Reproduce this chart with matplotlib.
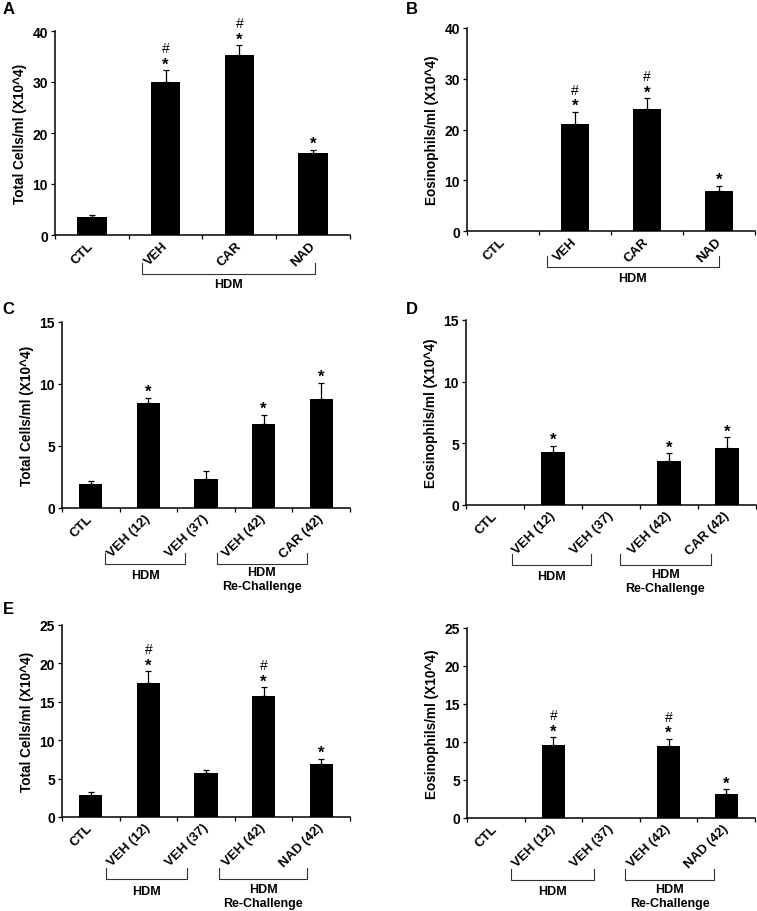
import matplotlib
matplotlib.use("Agg")
import matplotlib.pyplot as plt
import matplotlib.transforms as mtransforms

plt.rcParams['font.family'] = ['Liberation Sans', 'DejaVu Sans']
plt.rcParams['font.weight'] = 'bold'

# data
cats_ab = ["CTL", "VEH", "CAR", "NAD"]
cats_cd = ["CTL", "VEH (12)", "VEH (37)", "VEH (42)", "CAR (42)"]
cats_ef = ["CTL", "VEH (12)", "VEH (37)", "VEH (42)", "NAD (42)"]

a_total = [3.5, 30.0, 35.2, 16.0]
a_err = [0.4, 2.3, 2.0, 0.7]
b_eos = [0.0, 21.1, 24.0, 7.9]
b_err = [0.0, 2.4, 2.2, 1.0]
c_total = [1.9, 8.5, 2.3, 6.8, 8.8]
c_err = [0.3, 0.4, 0.7, 0.7, 1.3]
d_eos = [0.0, 4.3, 0.0, 3.6, 4.6]
d_err = [0.0, 0.5, 0.0, 0.6, 0.9]
e_total = [2.9, 17.5, 5.7, 15.7, 6.9]
e_err = [0.4, 1.5, 0.4, 1.2, 0.7]
f_eos = [0.0, 9.6, 0.0, 9.5, 3.1]
f_err = [0.0, 1.0, 0.0, 0.9, 0.7]

marks_ab = ["", "*#", "*#", "*"]
marks_cd = ["", "*", "", "*", "*"]
marks_ef = ["", "*#", "", "*#", "*"]

W, H = 757, 912
fig = plt.figure(figsize=(W / 100, H / 100), dpi=100)


def make_ax(left, right, top, bottom):
    return fig.add_axes([left / W, 1 - bottom / H, (right - left) / W, (bottom - top) / H])


def draw(ax, cats, vals, errs, marks, ymax, ystep, ylabel):
    n = len(cats)
    xs = [i + 0.5 for i in range(n)]
    ax.bar(xs, vals, width=0.4, color='black')
    for x, v, e in zip(xs, vals, errs):
        if e > 0:
            ax.errorbar(x, v, yerr=[[0], [e]], fmt='none', ecolor='black',
                        elinewidth=0.9, capsize=2, capthick=0.9)
    for x, v, e, m in zip(xs, vals, errs, marks):
        if "*" in m:
            ax.annotate("*", (x, v + e), xytext=(0, 4.5), textcoords='offset points',
                        ha='center', va='center', fontsize=12, fontweight='bold')
        if "#" in m:
            ax.annotate("#", (x, v + e), xytext=(0, 16), textcoords='offset points',
                        ha='center', va='center', fontsize=10, fontweight='normal')
    ax.set_xlim(0, n)
    ax.set_ylim(0, ymax)
    ax.set_yticks(range(0, ymax + 1, ystep))
    ax.set_xticks(xs)
    ax.set_xticklabels(cats, rotation=45, ha='right', va='center',
                       rotation_mode='anchor', fontsize=9.5)
    ax.set_xticks(range(n + 1), minor=True)
    ax.tick_params(axis='x', which='major', length=0, pad=6)
    ax.tick_params(axis='x', which='minor', length=3, width=0.9, direction='out')
    ax.tick_params(axis='y', length=3, width=0.9, direction='out', labelsize=10, pad=2)
    for s in ['top', 'right']:
        ax.spines[s].set_visible(False)
    for s in ['left', 'bottom']:
        ax.spines[s].set_linewidth(1.1)
    ax.set_ylabel(ylabel, fontsize=9.8, fontweight='bold', labelpad=4)


def bracket(ax, x0, x1, below, lines, first_text, line_gap=14):
    h = ax.bbox.height
    trans = mtransforms.blended_transform_factory(ax.transData, ax.transAxes)
    yb = -below / h
    yt = -(below - 11) / h
    ax.plot([x0, x0, x1, x1], [yt, yb, yb, yt], color='#333333', lw=0.8,
            transform=trans, clip_on=False)
    xm = (x0 + x1) / 2
    for k, t in enumerate(lines):
        ax.text(xm, -(first_text + k * line_gap) / h, t, transform=trans,
                ha='center', va='center', fontsize=9, fontweight='bold')


ax_a = make_ax(55, 350, 32, 236)
draw(ax_a, cats_ab, a_total, a_err, marks_ab, 40, 10, "Total Cells/ml (X10^4)")
bracket(ax_a, 1.18, 3.53, 39, ["HDM"], 49)

ax_b = make_ax(467, 755, 29, 232)
draw(ax_b, cats_ab, b_eos, b_err, marks_ab, 40, 10, "Eosinophils/ml (X10^4)")
bracket(ax_b, 1.11, 3.5, 36, ["HDM"], 47)

ax_c = make_ax(62, 350, 323, 509)
draw(ax_c, cats_cd, c_total, c_err, marks_cd, 15, 5, "Total Cells/ml (X10^4)")
bracket(ax_c, 0.75, 2.14, 56, ["HDM"], 67)
bracket(ax_c, 2.69, 4.25, 56, ["HDM", "Re-Challenge"], 64)

ax_d = make_ax(466, 756, 321, 506)
draw(ax_d, cats_cd, d_eos, d_err, marks_cd, 15, 5, "Eosinophils/ml (X10^4)")
bracket(ax_d, 0.80, 2.16, 60, ["HDM"], 71)
bracket(ax_d, 2.65, 4.22, 60, ["HDM", "Re-Challenge"], 69)

ax_e = make_ax(62, 350, 626, 818)
draw(ax_e, cats_ef, e_total, e_err, marks_ef, 25, 5, "Total Cells/ml (X10^4)")
bracket(ax_e, 0.76, 2.17, 62, ["HDM"], 74)
bracket(ax_e, 2.73, 4.25, 62, ["HDM", "Re-Challenge"], 72)

ax_f = make_ax(467, 755, 629, 819)
draw(ax_f, cats_ef, f_eos, f_err, marks_ef, 25, 5, "Eosinophils/ml (X10^4)")
bracket(ax_f, 0.77, 2.21, 62, ["HDM"], 73)
bracket(ax_f, 2.75, 4.28, 62, ["HDM", "Re-Challenge"], 71)

for lbl, x, y in [("A", 9, 10), ("B", 412, 9), ("C", 8, 309), ("D", 412, 309), ("E", 8, 609)]:
    fig.text(x / W, 1 - y / H, lbl, fontsize=12, fontweight='bold', ha='center', va='center')

fig.savefig("out.png", dpi=100, facecolor='white')
